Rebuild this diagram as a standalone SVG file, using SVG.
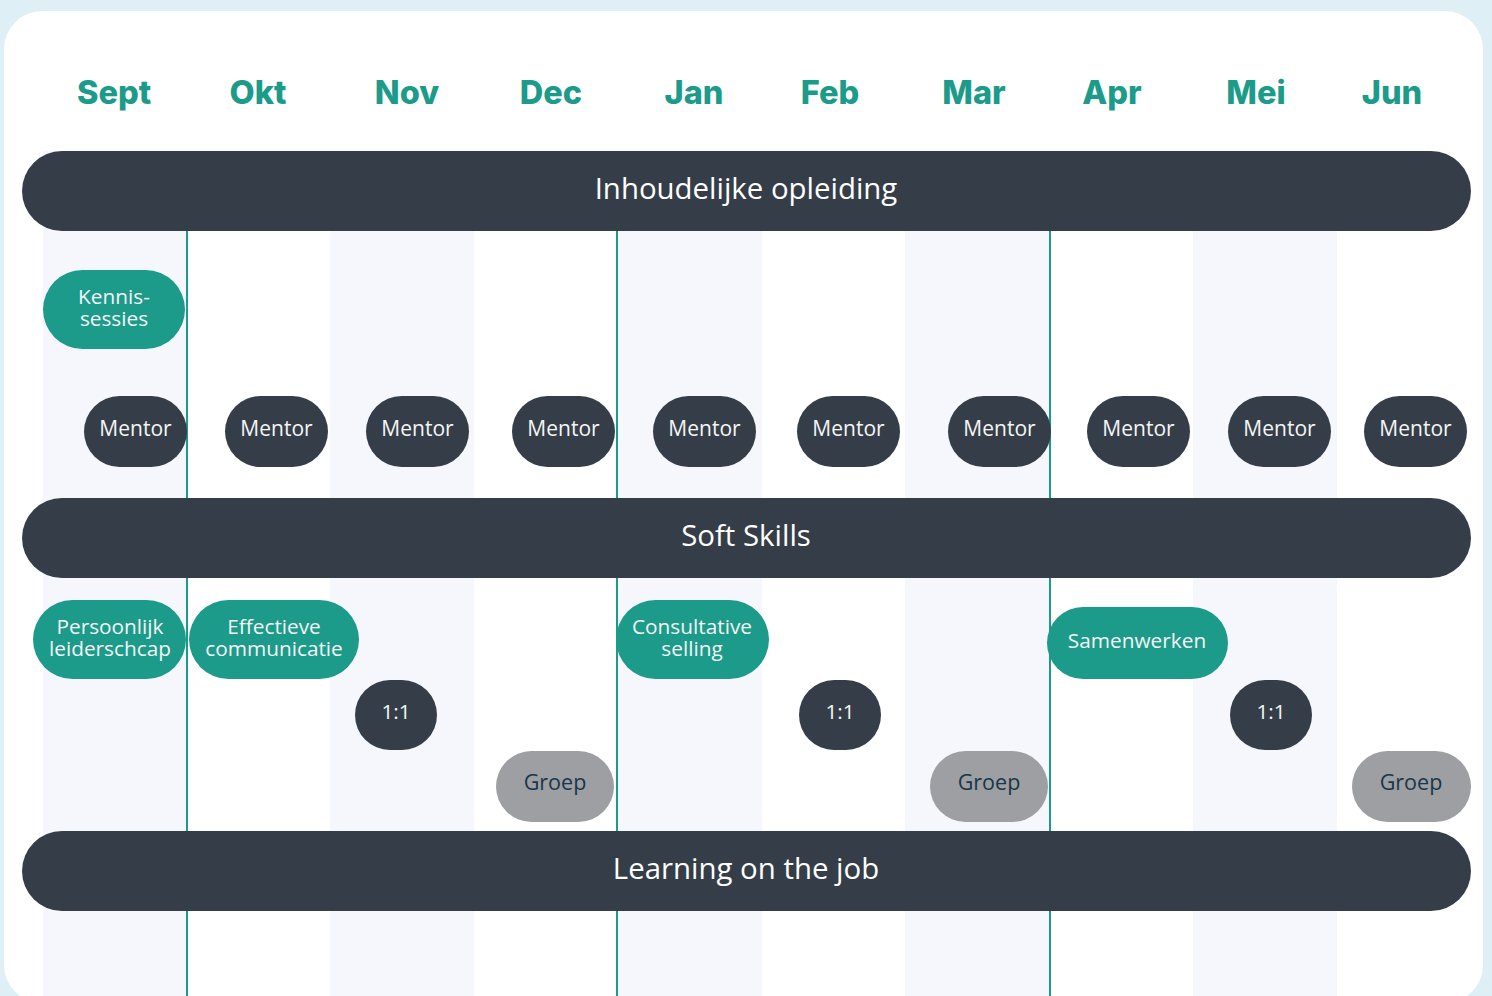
<svg xmlns="http://www.w3.org/2000/svg" width="1492" height="996" viewBox="0 0 1492 996">
<style>
.month{font-family:Inter,"Liberation Sans",sans-serif;font-weight:800;font-size:32.5px;fill:#1c9b8a;text-anchor:middle}
.bar{fill:#353e48}
.bart{font-family:"Open Sans","Liberation Sans",sans-serif;font-size:29.4px;fill:#ffffff;text-anchor:middle}
.teal{fill:#1c9b8a}
.dark{fill:#353e48}
.grey{fill:#9d9fa3}
.pt{font-family:"Open Sans","Liberation Sans",sans-serif;font-size:21px;fill:#f4f6f6;text-anchor:middle}
.ml{font-family:"Open Sans","Liberation Sans",sans-serif;font-size:20.8px;fill:#f4f6f6;text-anchor:middle}
.gt{font-family:"Open Sans","Liberation Sans",sans-serif;font-size:21.5px;fill:#18364a;text-anchor:middle}
.stripe{fill:#f5f7fc}
.vl{stroke:#1c9b8a;stroke-width:2}
</style>
<rect x="0" y="0" width="1492" height="996" fill="#dfeff6"/>
<rect x="4" y="11" width="1479" height="992" rx="38" fill="#ffffff"/>
<g id="stripes">
<rect class="stripe" x="43" y="151" width="144" height="845"/>
<rect class="stripe" x="330" y="151" width="144" height="845"/>
<rect class="stripe" x="618" y="151" width="144" height="845"/>
<rect class="stripe" x="905" y="151" width="144" height="845"/>
<rect class="stripe" x="1193" y="151" width="144" height="845"/>
</g>
<g id="dividers">
<line class="vl" x1="187" y1="151" x2="187" y2="996"/>
<line class="vl" x1="617" y1="151" x2="617" y2="996"/>
<line class="vl" x1="1050" y1="151" x2="1050" y2="996"/>
</g>
<g id="months">
<text class="month" x="114" y="104">Sept</text>
<text class="month" x="258" y="104">Okt</text>
<text class="month" x="407" y="104">Nov</text>
<text class="month" x="551" y="104">Dec</text>
<text class="month" x="694" y="104">Jan</text>
<text class="month" x="830" y="104">Feb</text>
<text class="month" x="974" y="104">Mar</text>
<text class="month" x="1112" y="104">Apr</text>
<text class="month" x="1256" y="104">Mei</text>
<text class="month" x="1392" y="104">Jun</text>
</g>
<g id="bar-inhoudelijke">
<rect class="bar" x="22" y="151" width="1449" height="80" rx="40"/>
<text class="bart" x="746" y="199">Inhoudelijke opleiding</text>
</g>
<g id="bar-softskills">
<rect class="bar" x="22" y="498" width="1449" height="80" rx="40"/>
<text class="bart" x="746" y="546">Soft Skills</text>
</g>
<g id="bar-learning">
<rect class="bar" x="22" y="831" width="1449" height="80" rx="40"/>
<text class="bart" x="746" y="879">Learning on the job</text>
</g>
<g id="kennissessies">
<rect class="teal" x="43" y="270" width="142" height="79" rx="39.5"/>
<text class="ml" x="114" y="304">Kennis-</text>
<text class="ml" x="114" y="326">sessies</text>
</g>
<g id="mentors">
<g id="mentor-1"><rect class="dark" x="84" y="396" width="103" height="71" rx="35.5"/><text class="pt" x="135.5" y="436">Mentor</text></g>
<g id="mentor-2"><rect class="dark" x="225" y="396" width="103" height="71" rx="35.5"/><text class="pt" x="276.5" y="436">Mentor</text></g>
<g id="mentor-3"><rect class="dark" x="366" y="396" width="103" height="71" rx="35.5"/><text class="pt" x="417.5" y="436">Mentor</text></g>
<g id="mentor-4"><rect class="dark" x="512" y="396" width="103" height="71" rx="35.5"/><text class="pt" x="563.5" y="436">Mentor</text></g>
<g id="mentor-5"><rect class="dark" x="653" y="396" width="103" height="71" rx="35.5"/><text class="pt" x="704.5" y="436">Mentor</text></g>
<g id="mentor-6"><rect class="dark" x="797" y="396" width="103" height="71" rx="35.5"/><text class="pt" x="848.5" y="436">Mentor</text></g>
<g id="mentor-7"><rect class="dark" x="948" y="396" width="103" height="71" rx="35.5"/><text class="pt" x="999.5" y="436">Mentor</text></g>
<g id="mentor-8"><rect class="dark" x="1087" y="396" width="103" height="71" rx="35.5"/><text class="pt" x="1138.5" y="436">Mentor</text></g>
<g id="mentor-9"><rect class="dark" x="1228" y="396" width="103" height="71" rx="35.5"/><text class="pt" x="1279.5" y="436">Mentor</text></g>
<g id="mentor-10"><rect class="dark" x="1364" y="396" width="103" height="71" rx="35.5"/><text class="pt" x="1415.5" y="436">Mentor</text></g>
</g>
<g id="persoonlijk">
<rect class="teal" x="33" y="600" width="153" height="79" rx="39.5"/>
<text class="ml" x="110" y="634">Persoonlijk</text>
<text class="ml" x="110" y="656">leiderschcap</text>
</g>
<g id="effectieve">
<rect class="teal" x="189" y="600" width="170" height="79" rx="39.5"/>
<text class="ml" x="274" y="634">Effectieve</text>
<text class="ml" x="274" y="656">communicatie</text>
</g>
<g id="consultative">
<rect class="teal" x="616" y="600" width="153" height="79" rx="39.5"/>
<text class="ml" x="692" y="634">Consultative</text>
<text class="ml" x="692" y="656">selling</text>
</g>
<g id="samenwerken">
<rect class="teal" x="1047" y="607" width="181" height="72" rx="36"/>
<text class="ml" x="1137" y="648">Samenwerken</text>
</g>
<g id="one-1"><rect class="dark" x="355" y="680" width="82" height="70" rx="35"/><text class="ml" x="396" y="719">1:1</text></g>
<g id="one-2"><rect class="dark" x="799" y="680" width="82" height="70" rx="35"/><text class="ml" x="840" y="719">1:1</text></g>
<g id="one-3"><rect class="dark" x="1230" y="680" width="82" height="70" rx="35"/><text class="ml" x="1271" y="719">1:1</text></g>
<g id="groep-1"><rect class="grey" x="496" y="751" width="118" height="71" rx="35.5"/><text class="gt" x="555" y="790">Groep</text></g>
<g id="groep-2"><rect class="grey" x="930" y="751" width="118" height="71" rx="35.5"/><text class="gt" x="989" y="790">Groep</text></g>
<g id="groep-3"><rect class="grey" x="1352" y="751" width="119" height="71" rx="35.5"/><text class="gt" x="1411" y="790">Groep</text></g>
<g id="connectors"/>
</svg>
